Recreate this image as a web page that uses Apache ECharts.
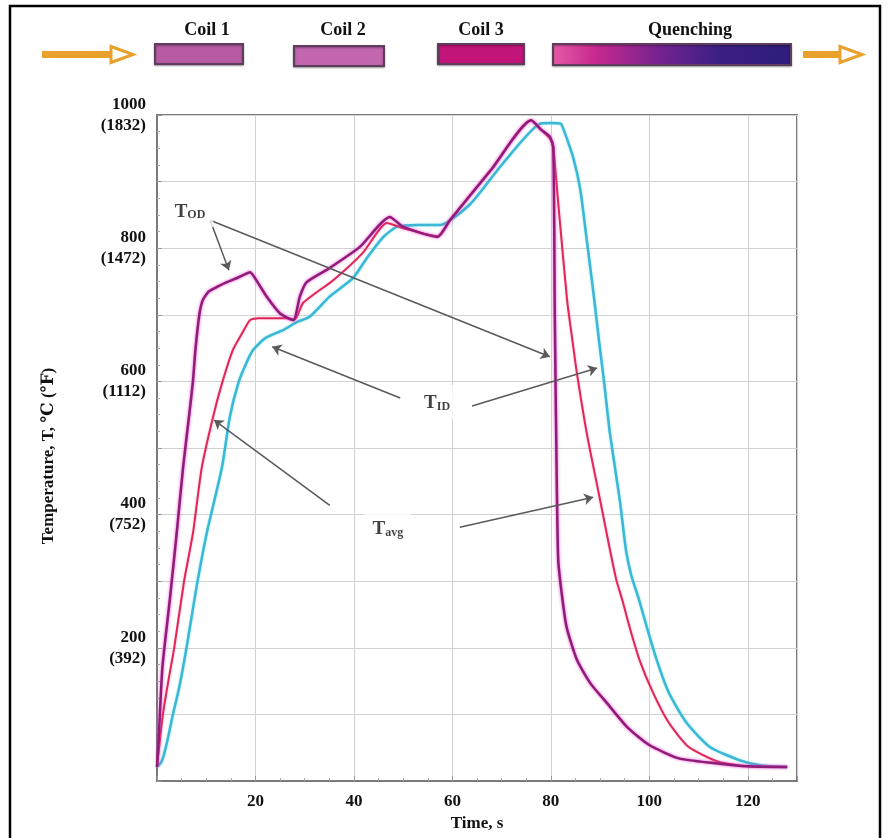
<!DOCTYPE html>
<html>
<head>
<meta charset="utf-8">
<script src="https://cdn.jsdelivr.net/npm/echarts@6/dist/echarts.min.js"></script>
<style>
html,body{margin:0;padding:0;background:#fff;}
#chart{width:887px;height:838px;}
</style>
</head>
<body>
<div id="chart"></div>
<script>
// ---- Data (time in s, temperature in °C) ----
const timeOD = [0, 0.4, 1.1, 2.6, 4.0, 5.3, 6.5, 7.3, 7.8, 8.6, 9.3, 10.5, 12.5, 14.2, 16.5, 18.9, 20.5, 22.3, 25.0, 27.7, 29.0, 30.4, 35.0, 41.2, 47.3, 50.0, 57.0, 59.5, 68, 76.0, 78, 79.8, 80.5, 80.8, 81.2, 81.5, 82.2, 83.2, 85.3, 88.0, 91.4, 95.5, 100, 106, 113, 120, 128];
const tempOD = [21, 72, 171, 272, 372, 471, 547, 600, 647, 700, 722, 735, 743, 749, 756, 764, 748, 727, 702, 692, 727, 749, 770, 802, 847, 832, 817, 842, 919, 992, 978, 967, 950, 700, 450, 332, 282, 231, 182, 147, 117, 81, 54, 34, 27, 22, 21];

const timeAvg = [0, 1.2, 2.3, 3.5, 5.5, 7.3, 9.1, 11.4, 13.2, 15.4, 17.5, 18.9, 20.5, 24, 26.4, 28.0, 29.7, 35.8, 41.8, 46.7, 50.0, 57.0, 59.5, 68, 76.0, 78, 79.8, 80.4, 81.5, 83.3, 84.5, 85.3, 87.3, 90, 92.2, 93.3, 94.5, 96, 98, 100.8, 104, 108, 114, 120, 128];
const tempAvg = [21, 100, 150, 200, 300, 372, 471, 547, 597, 647, 675, 692, 695, 695, 695, 693, 718, 752, 793, 838, 830, 818, 842, 919, 992, 978, 965, 958, 868, 722, 655, 612, 522, 422, 340, 302, 272, 231, 182, 132, 87, 51, 29, 22, 21];

const timeID = [0, 1, 2, 3.3, 4.5, 6, 8, 10.1, 13.2, 14.8, 16.5, 18, 19.5, 22, 25.6, 28.4, 31, 35, 39.8, 42.6, 46, 48.7, 53, 57.5, 63.6, 70, 77.8, 80, 82, 82.5, 84.5, 86, 87.3, 88.7, 89.8, 90.8, 92, 94, 95.3, 96.4, 97.8, 99.5, 101.5, 104, 107.6, 112.3, 118.4, 123, 128];
const tempID = [21, 30, 57, 102, 140, 200, 290, 372, 471, 547, 597, 625, 647, 665, 677, 689, 697, 727, 755, 785, 817, 832, 835, 835, 866, 925, 987, 988, 987, 980, 937, 887, 812, 730, 660, 600, 522, 422, 345, 307, 275, 231, 182, 132, 87, 51, 31, 23, 21];

const xTicks = [20, 40, 60, 80, 100, 120];
const yTicksC = [200, 400, 600, 800, 1000];
const yTicksF = ['(392)', '(752)', '(1112)', '(1472)', '(1832)'];

const stageNames = ['Coil 1', 'Coil 2', 'Coil 3', 'Quenching'];

// annotation labels: [t, T, main, subscript]
const annotLabels = [[6.7, 857, 'T', 'OD'], [56.9, 569, 'T', 'ID'], [46.9, 380, 'T', 'avg']];
// annotation arrows: [fromT, fromTemp, toT, toTemp]
const annotArrows = [
  [10.8, 842, 14.6, 767],
  [10.8, 842, 79.8, 637],
  [49.4, 575, 23.4, 652],
  [64.0, 563, 89.4, 620],
  [35.1, 414, 11.6, 542],
  [61.5, 381, 88.6, 426]
];

const zip = (a, b) => a.map((v, i) => [v, b[i]]);
const FONT = '"Liberation Serif", "DejaVu Serif", serif';

const chart = echarts.init(document.getElementById('chart'));

const g = [];
// outer frame
g.push({type:'rect', shape:{x:10, y:6, width:870, height:850}, style:{fill:'none', stroke:'#000', lineWidth:2.5}, z:100});
// orange arrows
function orangeArrow(x0, x1, xh, y){
  g.push({type:'rect', shape:{x:x0, y:y-3.5, width:x1-x0, height:7}, style:{fill:'#E9A12C'}});
  g.push({type:'polygon', shape:{points:[[xh, y-8],[xh+22, y],[xh, y+8]]}, style:{fill:'#fff', stroke:'#E9A12C', lineWidth:3}});
}
orangeArrow(42, 112, 111, 54.5);
orangeArrow(803, 840, 840, 54.5);
// stage boxes
const boxes = [
  {x:155, y:44, w:88, h:20, fill:'#B65BA2'},
  {x:294, y:46, w:90, h:20, fill:'#C266AE'},
  {x:438, y:44, w:86, h:20, fill:'#C21479'},
  {x:553, y:44, w:238, h:21, fill:new echarts.graphic.LinearGradient(0,0,1,0,[
    {offset:0, color:'#E55CA6'}, {offset:0.18, color:'#C8288F'}, {offset:0.45, color:'#74238F'},
    {offset:0.7, color:'#3A1F84'}, {offset:1, color:'#2E1D7A'}])}
];
const labelX = [207, 343, 481, 690];
boxes.forEach((b, i) => {
  g.push({type:'rect', shape:{x:b.x, y:b.y, width:b.w, height:b.h}, style:{fill:b.fill, stroke:'#5E3E5C', lineWidth:2, shadowBlur:2, shadowColor:'rgba(0,0,0,0.35)', shadowOffsetY:1}});
  g.push({type:'text', x:labelX[i], y:30, style:{text:stageNames[i], fill:'#111', font:'bold 18px ' + FONT, textAlign:'center', textVerticalAlign:'middle'}});
});

const lineCommon = {type:'line', showSymbol:false, smooth:0.2, z:3};

const option = {
  animation:false,
  backgroundColor:'#fff',
  grid:{left:157, right:90, top:115, bottom:57, show:true, borderColor:'#7a7a7a', borderWidth:2, backgroundColor:'transparent'},
  xAxis:{
    type:'value', min:0, max:130, interval:20,
    name:'Time, s', nameLocation:'middle', nameGap:32,
    nameTextStyle:{fontFamily:FONT, fontWeight:'bold', fontSize:17, color:'#111'},
    axisLine:{show:true, lineStyle:{color:'#7a7a7a', width:2}},
    axisTick:{show:true, inside:true, length:5, lineStyle:{color:'#999'}},
    minorTick:{show:true, splitNumber:4, length:3, lineStyle:{color:'#aaa'}},
    splitLine:{show:true, lineStyle:{color:'#d2d2d2', width:1}},
    axisLabel:{fontFamily:FONT, fontWeight:'bold', fontSize:17, color:'#111', margin:12,
      formatter:v => xTicks.indexOf(v) >= 0 ? String(v) : ''}
  },
  yAxis:{
    type:'value', min:0, max:1000, interval:100,
    name:'Temperature, T, ℃ (℉)', nameLocation:'middle', nameGap:100, nameRotate:90,
    nameTextStyle:{fontFamily:FONT, fontWeight:'bold', fontSize:17, color:'#111', padding:[0,16,0,0]},
    axisLine:{show:true, lineStyle:{color:'#7a7a7a', width:2}},
    axisTick:{show:true, inside:true, length:5, lineStyle:{color:'#999'}},
    minorTick:{show:true, splitNumber:4, length:3, lineStyle:{color:'#aaa'}},
    splitLine:{show:true, lineStyle:{color:'#d2d2d2', width:1}},
    axisLabel:{fontFamily:FONT, fontWeight:'bold', fontSize:17, lineHeight:21, color:'#111', margin:11,
      formatter:v => { const i = yTicksC.indexOf(v); return i < 0 ? '' : v + '\n' + yTicksF[i]; }}
  },
  series:[
    Object.assign({}, lineCommon, {name:'T_ID', data:zip(timeID, tempID),
      lineStyle:{color:'#3CB7D6', width:2.5, shadowColor:'rgba(80,220,230,0.7)', shadowBlur:2}}),
    Object.assign({}, lineCommon, {name:'T_avg', data:zip(timeAvg, tempAvg),
      lineStyle:{color:'#E0275A', width:2, shadowColor:'rgba(255,120,160,0.6)', shadowBlur:2}}),
    Object.assign({}, lineCommon, {name:'T_OD', data:zip(timeOD, tempOD),
      lineStyle:{color:'#8E1C78', width:2.5, shadowColor:'rgba(235,60,200,0.9)', shadowBlur:3}}),
    {
      type:'line', name:'arrows', data:[], silent:true, z:4,
      markLine:{
        silent:true, symbol:['none','arrow'], symbolSize:9, animation:false,
        lineStyle:{color:'#5a5a5a', width:1.5, type:'solid'},
        itemStyle:{color:'#999'},
        label:{show:false},
        data: annotArrows.map(a => [{coord:[a[0], a[1]]}, {coord:[a[2], a[3]]}])
      }
    },
    {
      type:'scatter', name:'labels', z:6, silent:true, symbolSize:1,
      itemStyle:{color:'rgba(0,0,0,0)'},
      data: annotLabels.map(a => ({value:[a[0], a[1]], main:a[2], sub:a[3]})),
      label:{
        show:true, position:'inside', backgroundColor:'#fff', padding:[6,8],
        formatter:p => '{t|' + p.data.main + '}{s|' + p.data.sub + '}',
        rich:{
          t:{fontFamily:FONT, fontWeight:'bold', fontSize:19, color:'#111', lineHeight:22, verticalAlign:'bottom'},
          s:{fontFamily:FONT, fontWeight:'bold', fontSize:12, color:'#111', lineHeight:14, verticalAlign:'bottom'}
        }
      }
    }
  ],
  graphic: g
};
chart.setOption(option);
</script>
</body>
</html>
